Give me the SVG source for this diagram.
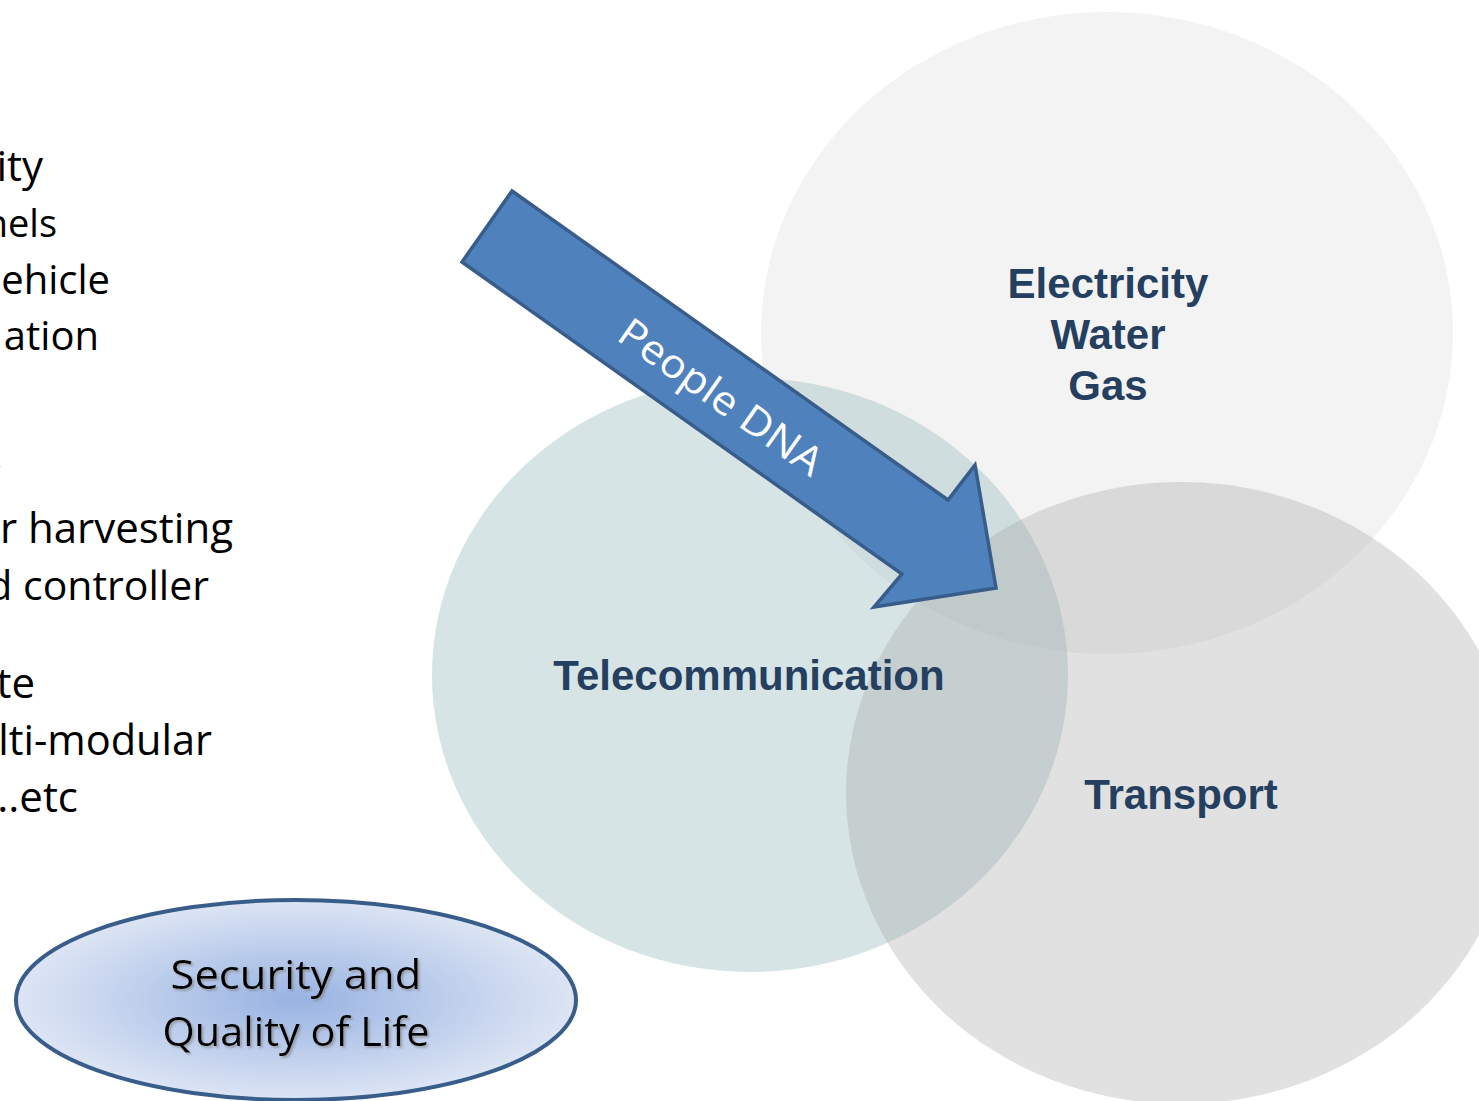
<svg xmlns="http://www.w3.org/2000/svg" width="1479" height="1101" viewBox="0 0 1479 1101">
<defs>
<style>
.lt{font-family:"Open Sans","Noto Sans",sans-serif;font-size:42px;fill:#000;text-anchor:end;font-variant-ligatures:none}
.lbl{font-family:"Liberation Sans",Arial,sans-serif;font-weight:bold;font-size:42px;fill:#243f60;text-anchor:middle}
.sec{font-family:"Open Sans","Noto Sans",sans-serif;font-size:41px;fill:#000;text-anchor:middle}
</style>
<radialGradient id="eg" cx="0.5" cy="0.5" r="0.5">
<stop offset="0" stop-color="#98b3e2"/>
<stop offset="1" stop-color="#dde5f4"/>
</radialGradient>
<filter id="sh" x="-10%" y="-20%" width="120%" height="140%">
<feDropShadow dx="2" dy="2" stdDeviation="1" flood-color="#808080" flood-opacity="0.6"/>
</filter>
</defs>
<rect width="1479" height="1101" fill="#fff"/>
<g id="left-text">
<text class="lt" x="43" y="181">ity</text>
<text class="lt" x="57" y="237" style="font-size:38px">nels</text>
<text class="lt" x="110" y="294" style="font-size:40px">ehicle</text>
<text class="lt" x="99" y="350" style="font-size:40px">ation</text>
<text class="lt" x="3" y="487">;</text>
<text class="lt" x="233" y="543">r harvesting</text>
<text class="lt" x="209" y="600" style="font-size:41px">d controller</text>
<text class="lt" x="35" y="698">te</text>
<text class="lt" x="212" y="755" style="font-size:41.5px">lti-modular</text>
<text class="lt" x="78" y="812">..etc</text>
</g>
<g id="electricity">
<ellipse cx="1107" cy="333" rx="346" ry="321" fill="#dadada" fill-opacity="0.33"/>
</g>
<g id="telecommunication">
<ellipse cx="750" cy="675" rx="318" ry="297" fill="#9fbec1" fill-opacity="0.42"/>
</g>
<g id="transport">
<ellipse cx="1181" cy="793" rx="335" ry="311" fill="#a5a5a5" fill-opacity="0.33"/>
</g>
<g id="labels">
<text class="lbl" x="1108" y="298">Electricity</text>
<text class="lbl" x="1108" y="349">Water</text>
<text class="lbl" x="1108" y="400">Gas</text>
<text class="lbl" x="749" y="690">Telecommunication</text>
<text class="lbl" x="1181" y="809">Transport</text>
</g>
<g id="connectors">
<g id="people-dna">
<polygon points="512,191 948,500 975,465 996,588 874,607 902,574 462,262" fill="#4f81bd" stroke="#385d8a" stroke-width="3.5" stroke-linejoin="miter"/>
<text transform="translate(721,397) rotate(35.3)" x="0" y="14" font-family="'Open Sans','Noto Sans',sans-serif" font-size="40" fill="#fff" text-anchor="middle" textLength="240" lengthAdjust="spacingAndGlyphs">People DNA</text>
</g>
</g>
<g id="security">
<ellipse cx="296" cy="1000" rx="280" ry="100" fill="url(#eg)" stroke="#385d8a" stroke-width="4"/>
<text class="sec" x="296" y="989" filter="url(#sh)" textLength="251" lengthAdjust="spacingAndGlyphs">Security  and</text>
<text class="sec" x="296" y="1046" filter="url(#sh)" textLength="267" lengthAdjust="spacingAndGlyphs">Quality of Life</text>
</g>
</svg>
